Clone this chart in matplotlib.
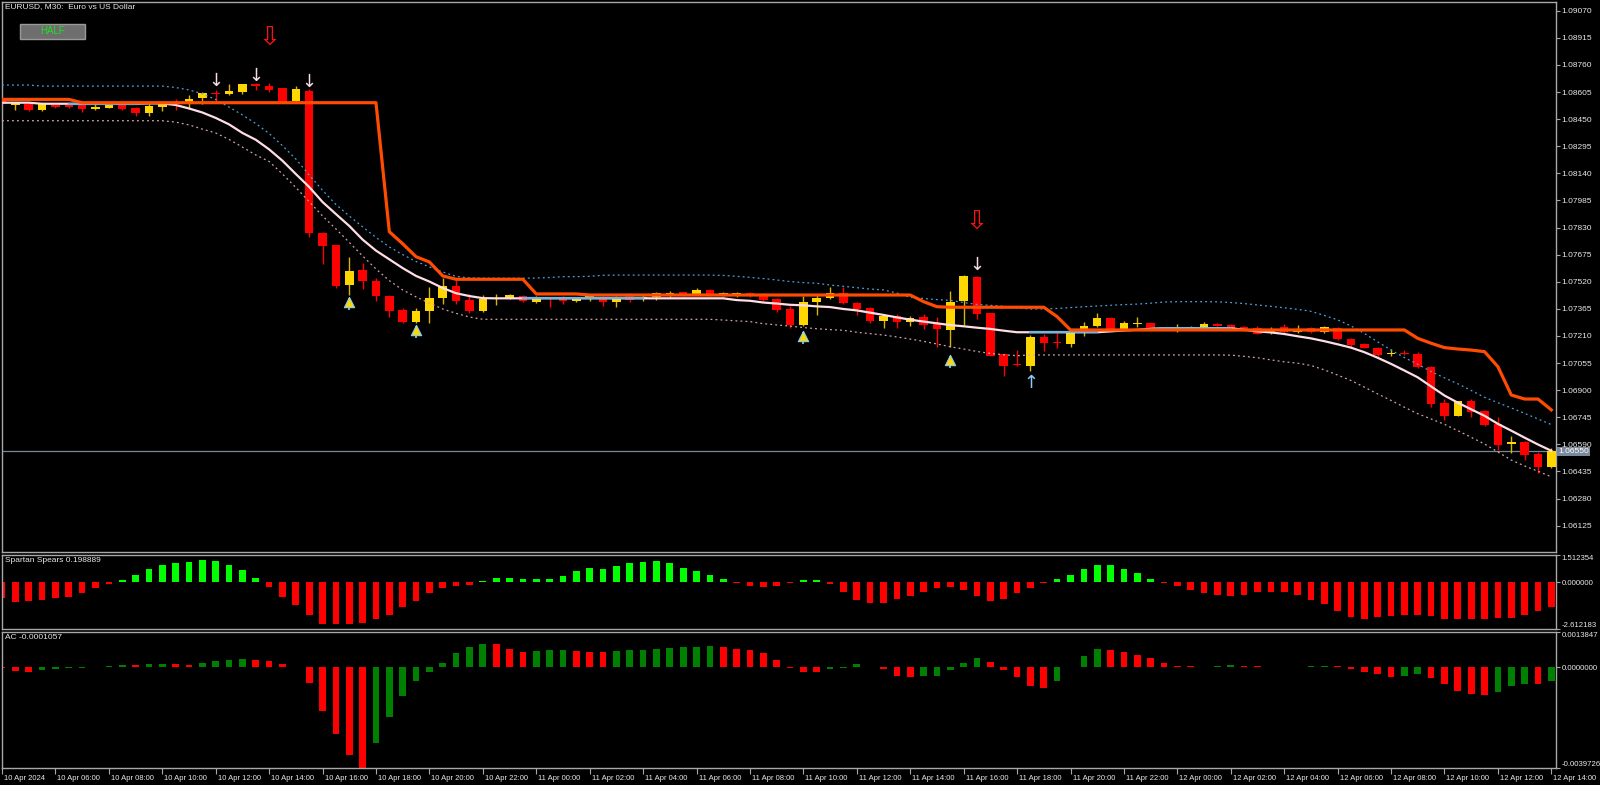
"""EURUSD M30 chart with Spartan Spears and AC sub-windows, MT4 style."""
import matplotlib

matplotlib.use("Agg")
import matplotlib.pyplot as plt
from matplotlib.patches import Rectangle
from matplotlib.transforms import ScaledTranslation, blended_transform_factory
import numpy as np
import pandas as pd

plt.rcParams["font.family"] = ["Liberation Sans", "DejaVu Sans"]

# ---------------- data ----------------
start_time = "2024-04-10 04:00"

opens = [
    1.08559, 1.08532, 1.08535, 1.08502, 1.08532, 1.08529, 1.08529, 1.08506, 1.08515, 1.08536,
    1.08512, 1.08487, 1.08521, 1.08548, 1.08540, 1.08569, 1.08594, 1.08592, 1.08603, 1.08651,
    1.08639, 1.08626, 1.08554, 1.08611, 1.07800, 1.07728, 1.07500, 1.07587, 1.07526, 1.07440,
    1.07358, 1.07291, 1.07354, 1.07429, 1.07497, 1.07415, 1.07354, 1.07421, 1.07425, 1.07440,
    1.07406, 1.07431, 1.07429, 1.07411, 1.07425, 1.07435, 1.07403, 1.07440, 1.07419, 1.07435,
    1.07440, 1.07460, 1.07444, 1.07473, 1.07444, 1.07440, 1.07456, 1.07444, 1.07421, 1.07364,
    1.07272, 1.07402, 1.07425, 1.07454, 1.07396, 1.07368, 1.07297, 1.07324, 1.07288, 1.07316,
    1.07278, 1.07244, 1.07410, 1.07545, 1.07339, 1.07105, 1.07044, 1.07038, 1.07206, 1.07171,
    1.07164, 1.07228, 1.07268, 1.07311, 1.07250, 1.07280, 1.07282, 1.07248, 1.07250, 1.07250,
    1.07254, 1.07278, 1.07272, 1.07261, 1.07254, 1.07228, 1.07259, 1.07231, 1.07255, 1.07231,
    1.07257, 1.07192, 1.07164, 1.07143, 1.07105, 1.07114, 1.07105, 1.07034, 1.06825, 1.06754,
    1.06840, 1.06781, 1.06707, 1.06590, 1.06602, 1.06535, 1.06463,
]
highs = [
    1.08569, 1.08548, 1.08536, 1.08544, 1.08535, 1.08536, 1.08531, 1.08535, 1.08540, 1.08538,
    1.08521, 1.08535, 1.08550, 1.08563, 1.08588, 1.08603, 1.08617, 1.08649, 1.08651, 1.08658,
    1.08658, 1.08628, 1.08639, 1.08622, 1.07804, 1.07732, 1.07663, 1.07629, 1.07540, 1.07444,
    1.07368, 1.07368, 1.07492, 1.07540, 1.07530, 1.07448, 1.07444, 1.07450, 1.07450, 1.07442,
    1.07439, 1.07433, 1.07440, 1.07435, 1.07444, 1.07439, 1.07440, 1.07454, 1.07444, 1.07463,
    1.07467, 1.07463, 1.07482, 1.07477, 1.07461, 1.07461, 1.07460, 1.07454, 1.07425, 1.07381,
    1.07440, 1.07444, 1.07488, 1.07492, 1.07406, 1.07377, 1.07333, 1.07335, 1.07326, 1.07333,
    1.07320, 1.07467, 1.07559, 1.07553, 1.07341, 1.07107, 1.07130, 1.07215, 1.07219, 1.07225,
    1.07234, 1.07291, 1.07339, 1.07320, 1.07295, 1.07320, 1.07286, 1.07261, 1.07278, 1.07267,
    1.07288, 1.07282, 1.07276, 1.07267, 1.07267, 1.07259, 1.07276, 1.07273, 1.07263, 1.07268,
    1.07261, 1.07200, 1.07171, 1.07147, 1.07135, 1.07130, 1.07116, 1.07039, 1.06850, 1.06840,
    1.06850, 1.06787, 1.06745, 1.06640, 1.06609, 1.06548, 1.06571,
]
lows = [
    1.08531, 1.08502, 1.08499, 1.08498, 1.08515, 1.08512, 1.08492, 1.08502, 1.08514, 1.08502,
    1.08468, 1.08468, 1.08496, 1.08502, 1.08512, 1.08535, 1.08550, 1.08588, 1.08592, 1.08617,
    1.08607, 1.08550, 1.08550, 1.07778, 1.07621, 1.07485, 1.07444, 1.07476, 1.07411, 1.07320,
    1.07282, 1.07282, 1.07282, 1.07391, 1.07394, 1.07343, 1.07349, 1.07387, 1.07421, 1.07406,
    1.07400, 1.07377, 1.07391, 1.07406, 1.07411, 1.07382, 1.07374, 1.07403, 1.07411, 1.07415,
    1.07435, 1.07437, 1.07442, 1.07437, 1.07439, 1.07435, 1.07435, 1.07411, 1.07345, 1.07254,
    1.07267, 1.07330, 1.07421, 1.07392, 1.07330, 1.07282, 1.07254, 1.07254, 1.07265, 1.07248,
    1.07148, 1.07148, 1.07273, 1.07305, 1.07097, 1.06983, 1.07040, 1.07011, 1.07125, 1.07142,
    1.07145, 1.07211, 1.07259, 1.07246, 1.07246, 1.07262, 1.07246, 1.07246, 1.07231, 1.07247,
    1.07250, 1.07265, 1.07251, 1.07238, 1.07219, 1.07223, 1.07227, 1.07229, 1.07227, 1.07227,
    1.07188, 1.07143, 1.07141, 1.07097, 1.07097, 1.07101, 1.07026, 1.06802, 1.06731, 1.06754,
    1.06748, 1.06697, 1.06558, 1.06539, 1.06501, 1.06428, 1.06454,
]
closes = [
    1.08535, 1.08544, 1.08502, 1.08535, 1.08519, 1.08521, 1.08506, 1.08521, 1.08536, 1.08506,
    1.08487, 1.08525, 1.08540, 1.08540, 1.08567, 1.08598, 1.08592, 1.08611, 1.08649, 1.08638,
    1.08617, 1.08550, 1.08621, 1.07797, 1.07724, 1.07496, 1.07583, 1.07524, 1.07438, 1.07354,
    1.07291, 1.07354, 1.07429, 1.07497, 1.07410, 1.07354, 1.07421, 1.07429, 1.07444, 1.07410,
    1.07435, 1.07425, 1.07411, 1.07431, 1.07437, 1.07403, 1.07429, 1.07415, 1.07435, 1.07454,
    1.07457, 1.07440, 1.07473, 1.07440, 1.07454, 1.07457, 1.07440, 1.07415, 1.07358, 1.07272,
    1.07406, 1.07425, 1.07457, 1.07396, 1.07362, 1.07297, 1.07325, 1.07291, 1.07314, 1.07272,
    1.07250, 1.07406, 1.07553, 1.07335, 1.07097, 1.07040, 1.07042, 1.07206, 1.07168, 1.07170,
    1.07228, 1.07267, 1.07311, 1.07250, 1.07282, 1.07282, 1.07250, 1.07254, 1.07257, 1.07263,
    1.07278, 1.07268, 1.07254, 1.07244, 1.07221, 1.07250, 1.07231, 1.07240, 1.07231, 1.07259,
    1.07190, 1.07158, 1.07143, 1.07101, 1.07114, 1.07105, 1.07030, 1.06820, 1.06754, 1.06840,
    1.06777, 1.06701, 1.06586, 1.06602, 1.06529, 1.06463, 1.06550,
]

# moving average (solid) and its envelope (dotted)
ma_line = [
    1.08544, 1.08544, 1.08544, 1.08538, 1.08538, 1.08538, 1.08538, 1.08538, 1.08538, 1.08538,
    1.08538, 1.08540, 1.08540, 1.08531, 1.08511, 1.08488, 1.08457, 1.08420, 1.08371, 1.08332,
    1.08277, 1.08212, 1.08136, 1.08062, 1.07976, 1.07907, 1.07839, 1.07761, 1.07698, 1.07648,
    1.07598, 1.07553, 1.07521, 1.07484, 1.07454, 1.07438, 1.07426, 1.07425, 1.07425, 1.07425,
    1.07425, 1.07425, 1.07425, 1.07425, 1.07425, 1.07425, 1.07425, 1.07425, 1.07425, 1.07425,
    1.07425, 1.07425, 1.07425, 1.07425, 1.07425, 1.07415, 1.07411, 1.07401, 1.07395, 1.07388,
    1.07385, 1.07379, 1.07375, 1.07364, 1.07356, 1.07343, 1.07330, 1.07316, 1.07303, 1.07292,
    1.07282, 1.07272, 1.07265, 1.07257, 1.07250, 1.07240, 1.07231, 1.07231, 1.07231, 1.07231,
    1.07231, 1.07231, 1.07231, 1.07236, 1.07241, 1.07245, 1.07250, 1.07254, 1.07254, 1.07254,
    1.07254, 1.07254, 1.07254, 1.07245, 1.07236, 1.07230, 1.07221, 1.07208, 1.07196, 1.07180,
    1.07162, 1.07143, 1.07117, 1.07085, 1.07050, 1.07012, 1.06973, 1.06921, 1.06869, 1.06828,
    1.06790, 1.06753, 1.06707, 1.06668, 1.06628, 1.06589, 1.06553,
]
ma_flat_spans = [(5, 10), (39, 48), (77, 82), (86, 92)]

band_upper = [
    1.08645, 1.08645, 1.08645, 1.08639, 1.08639, 1.08639, 1.08639, 1.08639, 1.08639, 1.08639,
    1.08639, 1.08639, 1.08639, 1.08631, 1.08617, 1.08595, 1.08562, 1.08519, 1.08474, 1.08425,
    1.08368, 1.08298, 1.08222, 1.08130, 1.08043, 1.07962, 1.07896, 1.07834, 1.07773, 1.07719,
    1.07675, 1.07636, 1.07605, 1.07576, 1.07550, 1.07542, 1.07540, 1.07540, 1.07540, 1.07540,
    1.07541, 1.07544, 1.07549, 1.07549, 1.07551, 1.07557, 1.07558, 1.07558, 1.07558, 1.07558,
    1.07558, 1.07558, 1.07558, 1.07558, 1.07556, 1.07551, 1.07545, 1.07538, 1.07530, 1.07521,
    1.07515, 1.07511, 1.07501, 1.07494, 1.07486, 1.07478, 1.07473, 1.07455, 1.07431, 1.07424,
    1.07418, 1.07413, 1.07401, 1.07390, 1.07385, 1.07379, 1.07370, 1.07364, 1.07364, 1.07367,
    1.07372, 1.07377, 1.07381, 1.07385, 1.07389, 1.07392, 1.07397, 1.07404, 1.07406, 1.07406,
    1.07406, 1.07405, 1.07401, 1.07395, 1.07387, 1.07379, 1.07371, 1.07362, 1.07351, 1.07327,
    1.07302, 1.07267, 1.07224, 1.07176, 1.07129, 1.07086, 1.07048, 1.07006, 1.06970, 1.06936,
    1.06898, 1.06859, 1.06828, 1.06798, 1.06767, 1.06735, 1.06703,
]
band_lower = [
    1.08441, 1.08441, 1.08441, 1.08441, 1.08441, 1.08441, 1.08441, 1.08441, 1.08441, 1.08441,
    1.08441, 1.08441, 1.08441, 1.08433, 1.08417, 1.08393, 1.08371, 1.08334, 1.08290, 1.08245,
    1.08208, 1.08136, 1.08059, 1.07978, 1.07896, 1.07822, 1.07745, 1.07667, 1.07593, 1.07526,
    1.07473, 1.07433, 1.07398, 1.07364, 1.07339, 1.07318, 1.07305, 1.07305, 1.07305, 1.07305,
    1.07305, 1.07305, 1.07305, 1.07305, 1.07305, 1.07305, 1.07305, 1.07305, 1.07305, 1.07305,
    1.07305, 1.07305, 1.07305, 1.07305, 1.07301, 1.07296, 1.07292, 1.07280, 1.07273, 1.07266,
    1.07258, 1.07251, 1.07246, 1.07242, 1.07231, 1.07223, 1.07215, 1.07204, 1.07192, 1.07179,
    1.07164, 1.07148, 1.07135, 1.07121, 1.07110, 1.07102, 1.07097, 1.07101, 1.07101, 1.07101,
    1.07101, 1.07101, 1.07101, 1.07101, 1.07101, 1.07101, 1.07101, 1.07101, 1.07101, 1.07101,
    1.07101, 1.07101, 1.07100, 1.07093, 1.07085, 1.07073, 1.07062, 1.07054, 1.07041, 1.07016,
    1.06986, 1.06955, 1.06917, 1.06878, 1.06841, 1.06802, 1.06765, 1.06735, 1.06704, 1.06668,
    1.06630, 1.06592, 1.06546, 1.06500, 1.06466, 1.06436, 1.06404,
]
# stepped trailing line (orange)
trail_line = (
    [1.08563] * 6 + [1.08544] * 23
    + [1.07806, 1.07737, 1.07663, 1.07633, 1.07553] + [1.07534] * 6
    + [1.07450] * 4 + [1.07444] * 25
    + [1.07406, 1.07377] + [1.07374] * 8 + [1.07320] + [1.07244] * 26
    + [1.07196, 1.07168, 1.07143, 1.07135, 1.07129, 1.07120, 1.07034, 1.06872, 1.06849, 1.06849, 1.06787]
)

# signal arrows
big_sell_bars = [20, 73]
big_sell_prices = [1.08917, 1.07864]
sell_bars = [16, 19, 23, 73]
sell_prices = [1.08668, 1.08699, 1.08662, 1.07618]
buy_bars = [77]
buy_prices = [1.06941]
star_bars = [26, 31, 60, 71]
star_prices = [1.07404, 1.07244, 1.07210, 1.07072]

bid = 1.06550
price_ticks = [1.06125, 1.06280, 1.06435, 1.06590, 1.06745, 1.06900, 1.07055, 1.07210,
               1.07365, 1.07520, 1.07675, 1.07830, 1.07985, 1.08140, 1.08295, 1.08450,
               1.08605, 1.08760, 1.08915, 1.09070]

spears = [
    -0.90, -1.09, -1.05, -1.00, -0.90, -0.81, -0.62, -0.34, -0.13, 0.13,
    0.41, 0.75, 0.98, 1.07, 1.13, 1.22, 1.17, 0.98, 0.66, 0.23,
    -0.28, -0.85, -1.28, -1.85, -2.35, -2.35, -2.32, -2.26, -2.07, -1.81,
    -1.41, -1.04, -0.60, -0.32, -0.24, -0.15, 0.09, 0.21, 0.21, 0.15,
    0.15, 0.17, 0.32, 0.60, 0.79, 0.75, 0.89, 1.07, 1.13, 1.17,
    1.07, 0.81, 0.60, 0.38, 0.15, -0.06, -0.21, -0.28, -0.24, -0.06,
    0.13, 0.13, -0.13, -0.56, -1.00, -1.19, -1.19, -0.94, -0.75, -0.56,
    -0.34, -0.28, -0.43, -0.75, -1.04, -0.94, -0.60, -0.34, -0.06, 0.19,
    0.41, 0.75, 0.94, 0.98, 0.75, 0.51, 0.17, -0.06, -0.24, -0.43,
    -0.62, -0.72, -0.75, -0.72, -0.56, -0.53, -0.56, -0.72, -1.00, -1.24,
    -1.62, -1.94, -2.03, -1.94, -1.88, -1.83, -1.83, -1.90, -2.07, -2.07,
    -2.07, -2.07, -2.00, -2.00, -1.81, -1.62, -1.41,
]
spears_range = (-2.612183, 1.512354)

ac = [
    -0.000050, -0.000144, -0.000184, -0.000131, -0.000092, -0.000053, -0.000026, 0.000013, 0.000039, 0.000079,
    0.000066, 0.000118, 0.000131, 0.000105, 0.000079, 0.000171, 0.000236, 0.000289, 0.000302, 0.000289,
    0.000249, 0.000131, -0.000013, -0.000617, -0.001733, -0.002652, -0.003470, -0.0039726, -0.002980, -0.001982,
    -0.001155, -0.000538, -0.000184, 0.000144, 0.000551, 0.000775, 0.000906, 0.000893, 0.000709, 0.000578,
    0.000617, 0.000656, 0.000670, 0.000617, 0.000610, 0.000605, 0.000630, 0.000670, 0.000683, 0.000696,
    0.000735, 0.000775, 0.000788, 0.000814, 0.000775, 0.000709, 0.000683, 0.000551, 0.000263, -0.000026,
    -0.000184, -0.000197, -0.000092, -0.000026, 0.000105, -0.000013, -0.000092, -0.000341, -0.000394, -0.000368,
    -0.000341, -0.000131, 0.000158, 0.000355, 0.000197, -0.000105, -0.000394, -0.000735, -0.000827, -0.000538,
    -0.000013, 0.000446, 0.000709, 0.000670, 0.000578, 0.000486, 0.000355, 0.000158, 0.000053, 0.000026,
    0.000013, 0.000053, 0.000079, 0.000053, 0.000026, 0.000005, -0.000013, 0.000013, 0.000026, 0.000053,
    0.000026, -0.000066, -0.000197, -0.000289, -0.000394, -0.000368, -0.000289, -0.000420, -0.000657, -0.000932,
    -0.001050, -0.001090, -0.000972, -0.000762, -0.000657, -0.000670, -0.000565,
]
ac_range = (-0.0039726, 0.0013847)

# ---------------- style ----------------
BULL = "#FFD700"
BULL_WICK = "#D8B400"
BEAR = "#FF0000"
FRAME = "#A8A8A8"
TEXT = "#E8E8E8"
FS = 6

W, H = 1600, 785
fig = plt.figure(figsize=(W / 100, H / 100), dpi=100, facecolor="black")


def box(left, top, right, bottom):
    return [left / W, 1 - bottom / H, (right - left) / W, (bottom - top) / H]


ax = fig.add_axes(box(2, 2, 1556, 552))
ax_ss = fig.add_axes(box(2, 555, 1556, 629), sharex=ax)
ax_ac = fig.add_axes(box(2, 632, 1556, 768), sharex=ax)

for a in (ax, ax_ss, ax_ac):
    a.set_facecolor("black")
    for s in a.spines.values():
        s.set_color(FRAME)
        s.set_linewidth(1)
    a.yaxis.tick_right()
    a.tick_params(axis="y", colors=FRAME, labelcolor=TEXT, labelsize=FS,
                  length=3, width=0.8, pad=1)
    a.tick_params(axis="x", bottom=False, labelbottom=False)

n = len(opens)
x = np.arange(n)
o, h, l, c = (np.array(v) for v in (opens, highs, lows, closes))

# ---------------- main window ----------------
ax.axhline(bid, color="#778899", lw=0.9, zorder=1)

up = c >= o
ax.vlines(x, l, h, colors=np.where(up, BULL_WICK, BEAR), lw=1, zorder=2)
ax.bar(x, np.maximum(np.abs(c - o), 0.00005), bottom=np.minimum(o, c), width=0.64,
       color=np.where(up, BULL, BEAR), linewidth=0, zorder=3)

ax.plot(x, band_upper, color="#4FA0D8", lw=0.9, ls=(0, (1.5, 2.5)), zorder=4)
ax.plot(x, band_lower, color="#D0A2AC", lw=0.9, ls=(0, (1.5, 2.5)), zorder=4)
ax.plot(x, ma_line, color="#FFDDE6", lw=1.6, zorder=5)
ma = np.array(ma_line)
for a0, a1 in ma_flat_spans:
    ax.plot(x[a0:a1 + 1], ma[a0:a1 + 1], color="#6DB8E8", lw=1.6, zorder=5)
ax.plot(x, trail_line, color="#FF4C00", lw=2.3, zorder=6)

for bx, py in zip(big_sell_bars, big_sell_prices):
    ax.text(bx, py, "\u21e9", color="#FF1010", fontsize=19, ha="center", va="center",
            family="DejaVu Sans", zorder=7)
for bx, py in zip(sell_bars, sell_prices):
    ax.text(bx, py, "\u2193", color="#F6DCE4", fontsize=13, ha="center", va="center",
            family="DejaVu Sans", zorder=7)
for bx, py in zip(buy_bars, buy_prices):
    ax.text(bx, py, "\u2191", color="#87CEFA", fontsize=13, ha="center", va="center",
            family="DejaVu Sans", zorder=7)
sx = np.array(star_bars)
sp = np.array(star_prices)
ax.vlines(sx, sp - 0.00045, sp + 0.00022, colors="#87CEFA", lw=1.2, zorder=7)
ax.scatter(sx, sp, marker="^", s=55, c=BULL, edgecolors="#87CEFA", linewidths=0.8, zorder=8)

ax.set_xlim(0.04, 116.35)
ax.set_ylim(1.05974, 1.09120)
ax.set_yticks(price_ticks)
ax.set_yticklabels([f"{v:.5f}" for v in price_ticks])

tr = blended_transform_factory(ax.transAxes, ax.transData)
ax.text(1.0 + 2 / 1554, bid, f"{bid:.5f}", transform=tr, ha="left", va="center",
        fontsize=FS, color="white", clip_on=False, zorder=10,
        bbox=dict(boxstyle="square,pad=0.15", fc="#7A8A9C", ec="none"))

fig.text(5 / W, 1 - 7 / H, "EURUSD, M30:  Euro vs US Dollar", color=TEXT,
         fontsize=FS, ha="left", va="center")
fig.patches.append(Rectangle((20 / W, 1 - 39 / H), 65 / W, 15 / H, transform=fig.transFigure,
                             fc="#6E6E6E", ec="#9A9A9A", lw=1))
fig.text(52.5 / W, 1 - 31.5 / H, "HALF", color="#22E022", fontsize=7, ha="center", va="center")

# ---------------- Spartan Spears ----------------
ss = np.array(spears)
ax_ss.bar(x, ss, width=0.5, color=np.where(ss >= 0, "#00FF00", "#FF0000"), linewidth=0)
ax_ss.set_ylim(*spears_range)
ss_ticks = [spears_range[1], 0.0, spears_range[0]]
ax_ss.set_yticks(ss_ticks)
ax_ss.set_yticklabels([f"{v:.6f}" for v in ss_ticks])
ax_ss.text(3 / 1554, 1 - 2 / 74, "Spartan Spears 0.198889", transform=ax_ss.transAxes,
           color=TEXT, fontsize=FS, ha="left", va="top")

# ---------------- AC ----------------
acv = np.array(ac)
ac_col = ["#FF0000"] + ["#008000" if acv[i] > acv[i - 1] else "#FF0000" for i in range(1, n)]
ax_ac.bar(x, acv, width=0.5, color=ac_col, linewidth=0)
ax_ac.set_ylim(*ac_range)
ac_ticks = [ac_range[1], 0.0, ac_range[0]]
ax_ac.set_yticks(ac_ticks)
ax_ac.set_yticklabels([f"{v:.7f}" for v in ac_ticks])
ax_ac.text(3 / 1554, 1 - 2 / 136, "AC -0.0001057", transform=ax_ac.transAxes,
           color=TEXT, fontsize=FS, ha="left", va="top")

for a in (ax_ss, ax_ac):
    a.tick_params(axis="y", labelsize=5.6)
    labs = a.get_yticklabels()
    labs[0].set_va("top")
    labs[-1].set_va("bottom")

# time axis
times = pd.date_range(start_time, periods=n, freq="30min")
tick_idx = x[::4]
tick_lab = [times[0].strftime("%d %b %Y")] + [times[i].strftime("%d %b %H:%M") for i in tick_idx[1:]]
ax_ac.set_xticks(tick_idx)
ax_ac.set_xticklabels(tick_lab)
ax_ac.tick_params(axis="x", bottom=True, labelbottom=True, colors=FRAME, labelcolor=TEXT,
                  labelsize=5.5, length=4, width=0.8, pad=1)
shift = ScaledTranslation(2 / 100, 0, fig.dpi_scale_trans)
for lab in ax_ac.get_xticklabels():
    lab.set_ha("left")
    lab.set_transform(lab.get_transform() + shift)

fig.savefig("out.png", dpi=100, facecolor="black")
plt.close(fig)
